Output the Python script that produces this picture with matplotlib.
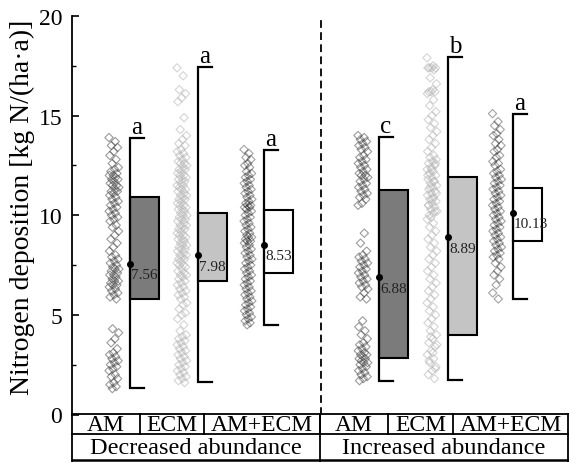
import matplotlib
matplotlib.use('Agg')
import matplotlib.pyplot as plt
from matplotlib.patches import Rectangle
from matplotlib.ticker import MultipleLocator
import numpy as np

plt.rcParams['font.family'] = ['Liberation Serif', 'DejaVu Serif']

# ---------------- data ----------------
conditions = ['Decreased abundance', 'Increased abundance']
groups = ['AM', 'ECM', 'AM+ECM', 'AM', 'ECM', 'AM+ECM']

dec_am = [13.9, 13.7, 13.5, 13.4, 13.2, 13.0, 12.8, 12.6, 12.4, 12.3,
          12.2, 12.1, 12.0, 12.0, 11.9, 11.8, 11.8, 11.7, 11.6, 11.5, 11.5, 11.4, 11.3, 11.2,
          11.2, 11.1, 11.0, 10.9, 10.8, 10.7, 10.6, 10.5,
          10.4, 10.3, 10.2, 10.1, 10.0, 9.9, 9.8, 9.7, 9.5, 9.4, 9.2,
          9.0, 8.8, 8.6, 8.4, 8.2,
          8.0, 7.9, 7.8, 7.7, 7.6, 7.5, 7.4, 7.3, 7.3, 7.2, 7.1, 7.0, 7.0, 6.9, 6.8, 6.7,
          6.7, 6.6, 6.5, 6.5, 6.4, 6.3, 6.2, 6.1, 6.0, 5.9, 5.8,
          4.3, 4.1, 3.8, 3.6, 3.3, 3.1, 3.0, 2.9, 2.8, 2.7, 2.6, 2.5, 2.4, 2.3, 2.2, 2.0,
          1.9, 1.8, 1.6, 1.5, 1.4, 1.3]

dec_ecm = [17.4, 17.0, 16.3, 16.1, 15.9, 15.7, 14.9, 14.3, 14.0, 13.8, 13.6, 13.5, 13.3,
           13.2, 13.1, 13.0,
           12.9, 12.8, 12.7, 12.6, 12.6, 12.5, 12.4, 12.3, 12.3, 12.2, 12.1, 12.0, 12.0, 11.9,
           11.8, 11.8, 11.7, 11.6, 11.5, 11.5, 11.4, 11.3, 11.3, 11.2, 11.1, 11.0, 11.0, 10.9,
           10.8, 10.8, 10.7, 10.6, 10.5, 10.5, 10.4, 10.3, 10.3, 10.2, 10.1, 10.0, 10.0, 9.9,
           9.8, 9.8, 9.7, 9.6, 9.5, 9.5, 9.4, 9.3, 9.3, 9.2, 9.1, 9.0, 9.0, 8.9, 8.8, 8.8,
           8.7, 8.6, 8.5, 8.5, 8.4, 8.3, 8.3, 8.2, 8.1, 8.0, 8.0, 7.9, 7.8, 7.8, 7.7, 7.6,
           7.5, 7.5, 7.4, 7.3, 7.2, 7.1, 7.0, 7.0, 6.9, 6.8, 6.7, 6.6, 6.5, 6.4, 6.3, 6.2,
           6.1, 6.0,
           5.9, 5.8, 5.6, 5.5, 5.3, 5.1, 5.0, 4.8, 4.5, 4.2,
           4.0, 3.9, 3.8, 3.7, 3.6, 3.5, 3.4, 3.3, 3.2, 3.1, 3.0, 2.9, 2.8, 2.7, 2.6, 2.5,
           2.4, 2.3, 2.2, 2.1, 2.0, 1.9, 1.8, 1.7, 1.6]

dec_mix = [13.3, 13.1, 12.9, 12.8, 12.6, 12.5, 12.4, 12.2, 12.1, 12.0, 11.9, 11.8, 11.7,
           11.6, 11.5, 11.4, 11.3, 11.2, 11.1, 11.0, 10.9, 10.8, 10.7, 10.6, 10.5, 10.5,
           10.4, 10.4, 10.3, 10.2, 10.1, 10.0, 9.9, 9.8, 9.7, 9.6, 9.5, 9.4, 9.3, 9.2, 9.1,
           9.0, 8.9, 8.9, 8.8, 8.7, 8.7, 8.6, 8.5, 8.4, 8.3, 8.2, 8.1, 8.0, 7.9, 7.8, 7.7,
           7.6, 7.5, 7.4, 7.3, 7.2, 7.1, 7.0, 6.9, 6.8, 6.7, 6.6, 6.5, 6.4, 6.3, 6.2, 6.1,
           6.0, 5.9, 5.8, 5.7, 5.6, 5.5, 5.4, 5.3, 5.2, 5.1, 5.0, 4.9, 4.8, 4.7, 4.6, 4.5]

inc_am = [14.0, 13.9, 13.8, 13.7, 13.6, 13.5, 13.4, 13.3, 13.2, 13.0, 12.9, 12.8, 12.7,
          12.6, 12.5, 12.4, 12.3, 12.2, 12.1, 12.0, 12.0, 11.9, 11.8, 11.7, 11.6, 11.5,
          11.4, 11.3, 11.2, 11.1, 11.0, 10.9, 10.8, 10.6, 10.5,
          9.1, 8.6, 8.2, 8.0, 7.9, 7.8, 7.7, 7.6, 7.5, 7.4, 7.3, 7.2, 7.1, 7.0, 6.9, 6.8,
          6.7, 6.6, 6.5, 6.4, 6.3, 6.1, 5.9, 5.8,
          4.7, 4.4, 4.2, 4.0, 3.8, 3.6, 3.5, 3.4, 3.3, 3.2, 3.1, 3.0, 3.0, 2.9, 2.8, 2.8,
          2.7, 2.6, 2.6, 2.5, 2.4, 2.3, 2.2, 2.1, 2.0, 1.9, 1.8, 1.7]

inc_ecm = [17.9, 17.5, 17.4, 17.4, 17.4, 17.4, 17.3, 16.9, 16.6, 16.3, 16.2, 16.2, 16.2,
           16.1, 15.8, 15.5, 15.2, 15.0, 14.8, 14.6, 14.4, 14.2, 14.0, 13.8, 13.6, 13.4,
           13.2, 13.0, 12.9, 12.8, 12.7, 12.6, 12.5, 12.4, 12.3, 12.2, 12.1, 12.0, 11.9,
           11.8, 11.7, 11.6, 11.5, 11.4, 11.3, 11.2, 11.1, 11.0, 10.9, 10.8, 10.7, 10.6,
           10.5, 10.4, 10.3, 10.2, 10.1, 10.0, 12.6, 12.3, 12.0, 11.7, 11.4, 11.1, 10.8,
           10.5, 10.2, 9.9, 9.8, 9.6, 9.4, 9.2, 9.0, 8.8, 8.6, 8.4, 8.2, 8.0, 7.8, 7.6,
           7.4, 7.2, 7.0, 6.8, 6.6, 6.4, 6.2, 6.0, 5.8, 5.6, 5.4, 5.2, 5.0, 4.8, 4.6, 4.4,
           4.2, 4.0, 3.8, 3.6, 3.4, 3.2, 3.0, 2.8, 2.6, 2.4, 2.2, 2.0, 1.8,
           3.9, 3.5, 3.1, 2.7, 2.3]

inc_mix = [15.1, 14.7, 14.5, 14.3, 14.1, 14.0, 13.8, 13.6, 13.5, 13.3, 13.2, 13.0, 12.9,
           12.7, 12.6, 12.5, 12.3, 12.2, 12.1, 12.0, 11.9, 11.8, 11.7, 11.6, 11.5, 11.4,
           11.3, 11.2, 11.1, 11.0, 10.9, 10.8, 10.7, 10.6, 10.5, 10.4, 10.3, 10.2, 10.1,
           10.0, 9.9, 9.8, 9.7, 9.6, 9.5, 9.4, 9.3, 9.2, 9.1, 9.0, 8.9, 8.8, 8.7, 8.6,
           8.5, 8.4, 8.3, 8.2, 8.1, 8.0, 7.9, 7.8, 7.6, 7.4, 7.2, 7.0, 6.8, 6.5, 6.1, 5.8]

point_sets = [dec_am, dec_ecm, dec_mix, inc_am, inc_ecm, inc_mix]

box_low = [5.82, 6.72, 7.08, 2.83, 4.00, 8.71]
box_high = [10.94, 10.13, 10.25, 11.25, 11.92, 11.37]
whisker_low = [1.33, 1.61, 4.50, 1.70, 1.73, 5.82]
whisker_high = [13.86, 17.42, 13.25, 13.93, 17.94, 15.10]
means = [7.56, 7.98, 8.53, 6.88, 8.89, 10.13]
letters = ['a', 'a', 'a', 'c', 'b', 'a']

# ---------------- styles / layout ----------------
W, H = 569, 464
fig = plt.figure(figsize=(W / 100, H / 100), dpi=100)

ax_l, ax_r, ax_top, ax_bot = 72, 568, 17, 415.5
ax = fig.add_axes([ax_l / W, 1 - ax_bot / H, (ax_r - ax_l) / W, (ax_bot - ax_top) / H])
ax.set_xlim(ax_l, ax_r)
ax.set_ylim(0, 20)

centers = [114, 182, 248, 363, 432, 497]
whisk_off = 16
box_w = 29
cap_w = 14
jit_w = [10, 10, 8, 10, 10, 9]
box_colors = ['#7b7b7b', '#c4c4c4', '#ffffff', '#7b7b7b', '#c4c4c4', '#ffffff']
pt_colors = ['#4a4a4a', '#b8b8b8', '#1a1a1a', '#4a4a4a', '#b8b8b8', '#1a1a1a']
pt_alpha = [0.55, 0.6, 0.4, 0.55, 0.6, 0.4]

for i, vals in enumerate(point_sets):
    n = len(vals)
    jit = ((np.arange(n) * 0.618034) % 1 - 0.5) * jit_w[i]
    ax.scatter(centers[i] + jit, vals, marker='D', s=18, facecolors='none',
               edgecolors=pt_colors[i], alpha=pt_alpha[i], linewidths=0.8, zorder=2)
    wx = centers[i] + whisk_off
    ax.add_patch(Rectangle((wx, box_low[i]), box_w, box_high[i] - box_low[i],
                           facecolor=box_colors[i], edgecolor='black', lw=1.5, zorder=3))
    ax.plot([wx + cap_w, wx, wx, wx + cap_w],
            [whisker_high[i], whisker_high[i], whisker_low[i], whisker_low[i]],
            color='black', lw=1.6, zorder=4, solid_joinstyle='miter')
    ax.plot(wx, means[i], 'o', color='black', ms=4, zorder=5)
    ax.annotate(f'{means[i]:.2f}', (wx, means[i]), xytext=(1, -11),
                textcoords='offset pixels', ha='left', va='center', fontsize=11,
                color='#222222', zorder=6)
    ax.annotate(letters[i], (wx + cap_w / 2, whisker_high[i]), xytext=(0, 5),
                textcoords='offset pixels', ha='center', va='baseline', fontsize=18)

ax.plot([321, 321], [0, 19.8], color='black', lw=1.3, ls=(0, (4.3, 2.4)), zorder=1)

for s in ['top', 'right', 'bottom']:
    ax.spines[s].set_visible(False)
ax.spines['left'].set_linewidth(1.3)
ax.set_xticks([])
ax.yaxis.set_major_locator(MultipleLocator(5))
ax.yaxis.set_minor_locator(MultipleLocator(2.5))
ax.tick_params(axis='y', which='major', direction='in', length=5, width=1.2,
               labelsize=17, pad=7)
ax.tick_params(axis='y', which='minor', direction='in', length=3, width=1.0)

fig.text(22 / W, 1 - 207 / H, 'Nitrogen deposition [kg N/(ha·a)]', rotation=90,
         ha='center', va='center', fontsize=20)

# ---------------- category table ----------------
t_top, t_mid, t_bot = 415, 435, 462
tab = fig.add_axes([ax_l / W, 1 - t_bot / H, (ax_r - ax_l) / W, (t_bot - t_top) / H])
tab.set_xlim(ax_l, ax_r)
tab.set_ylim(t_bot, t_top)
tab.axis('off')

col_edges = [72, 140, 204, 320, 388, 453, 568]
cond_edges = [72, 320, 568]
lk = dict(color='black', lw=1.3, clip_on=False, solid_capstyle='projecting')
tab.plot([ax_l, ax_r], [t_top, t_top], **lk)
tab.plot([ax_l, ax_r], [t_mid, t_mid], **lk)
tab.plot([ax_l, ax_r], [t_bot - 0.5, t_bot - 0.5], color='black', lw=1.8, clip_on=False)
for x in cond_edges:
    tab.plot([x, x], [t_top, t_bot], **lk)
for x in col_edges[1:-1]:
    tab.plot([x, x], [t_top, t_mid], **lk)

for j, g in enumerate(groups):
    tab.text((col_edges[j] + col_edges[j + 1]) / 2, (t_top + t_mid) / 2 + 1, g,
             ha='center', va='center', fontsize=17)
for j, c in enumerate(conditions):
    tab.text((cond_edges[j] + cond_edges[j + 1]) / 2, (t_mid + t_bot) / 2, c,
             ha='center', va='center', fontsize=17.5)

fig.savefig('out.png', dpi=100)
